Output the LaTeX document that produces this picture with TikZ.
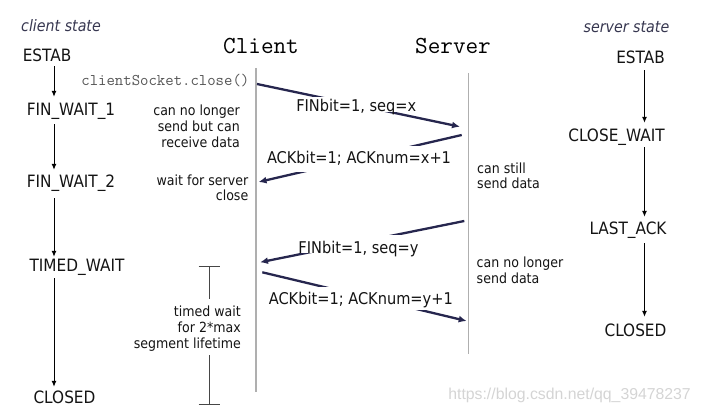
\documentclass[tikz,border=0pt]{standalone}
\usepackage{fontspec}
\setmainfont{DejaVu Sans}[FakeStretch=0.9]
\newfontfamily\wmfont{Liberation Sans}
\usetikzlibrary{arrows.meta,calc}
\definecolor{msgcol}{RGB}{38,38,78}
\definecolor{lifecol}{RGB}{175,175,175}
\definecolor{txtcol}{RGB}{20,20,20}
\definecolor{hintcol}{RGB}{55,55,80}
\definecolor{codecol}{RGB}{85,85,85}
\definecolor{wmcol}{RGB}{212,212,212}
\definecolor{brkcol}{RGB}{70,70,70}
\tikzset{
  statelbl/.style={font=\fontsize{17}{20}\selectfont, text=txtcol, inner sep=0pt,
    text height=12pt, text depth=4pt, anchor=base},
  colhead/.style={font=\fontsize{15.8}{18}\selectfont\itshape, text=hintcol, inner sep=0pt, anchor=base},
  lifehead/.style={font=\fontsize{24.5}{28}\selectfont\ttfamily, text=black, inner sep=0pt, anchor=base},
  lifeline/.style={draw=lifecol, line width=1.5pt},
  stateline/.style={draw=black, line width=1pt, -{Latex[length=6pt,width=5pt]}},
  msgline/.style={draw=msgcol, line width=2.3pt, -{Latex[length=8pt,width=7pt]}},
  msglbl/.style={font=\fontsize{16.2}{19}\selectfont, text=txtcol, fill=white,
    inner xsep=1pt, inner ysep=0pt, anchor=base},
  codelbl/.style={font=\fontsize{16.3}{19}\selectfont\ttfamily, text=codecol, inner sep=0pt},
  note/.style={font=\fontsize{14}{15.6}\selectfont, text=txtcol, inner sep=0pt},
  brk/.style={draw=brkcol, line width=0.8pt},
  wm/.style={font=\wmfont\fontsize{15.8}{18}\selectfont, text=wmcol, inner sep=0pt}
}
\begin{document}
\begin{tikzpicture}[x=1pt,y=-1pt]
\useasboundingbox (0,0) rectangle (701,414);

% column headers
\node[colhead] (cstate) at (61,31.5) {client state};
\node[colhead] (sstate) at (626.5,33) {server state};
\node[lifehead] (client) at (261,53.3) {Client};
\node[lifehead] (server) at (453,53.5) {Server};

% lifelines
\coordinate (cTop) at (256,68);
\coordinate (cBot) at (256,392);
\coordinate (sTop) at (468.5,73);
\coordinate (sBot) at (468.5,353.5);
\draw[lifeline] (cTop) -- (cBot);
\draw[lifeline] (sTop) -- (sBot);

% client states
\coordinate (cx) at (54,0);
\node[statelbl] (cE)  at (47,62)    {ESTAB};
\node[statelbl] (cF1) at (71,116)   {FIN\_WAIT\_1};
\node[statelbl] (cF2) at (71,187.5) {FIN\_WAIT\_2};
\node[statelbl] (cTW) at (77,271)   {TIMED\_WAIT};
\node[statelbl] (cC)  at (64.5,403) {CLOSED};
\draw[stateline, shorten >=7pt] (cE.south -| cx) -- (cF1.north -| cx);
\draw[stateline, shorten <=4pt, shorten >=5.5pt] (cF1.south -| cx) -- (cF2.north -| cx);
\draw[stateline, shorten <=6.5pt, shorten >=2pt] (cF2.south -| cx) -- (cTW.north -| cx);
\draw[stateline, shorten <=3pt, shorten >=4pt] (cTW.south -| cx) -- (cC.north -| cx);

% server states
\coordinate (sx) at (644.5,0);
\node[statelbl] (sE)  at (640.5,64)   {ESTAB};
\node[statelbl] (sCW) at (616.5,141.5){CLOSE\_WAIT};
\node[statelbl] (sLA) at (628,234)    {LAST\_ACK};
\node[statelbl] (sC)  at (635.5,336.5){CLOSED};
\draw[stateline, shorten <=2pt, shorten >=6.5pt] (sE.south -| sx) -- (sCW.north -| sx);
\draw[stateline, shorten <=1.5pt, shorten >=5pt] (sCW.south -| sx) -- (sLA.north -| sx);
\draw[stateline, shorten <=5pt, shorten >=7.5pt] (sLA.south -| sx) -- (sC.north -| sx);

% messages
\coordinate (m1s) at (257,84);    \coordinate (m1e) at (460,126.7);
\coordinate (m2s) at (461.7,135); \coordinate (m2e) at (258.5,182);
\coordinate (m3s) at (464.3,221); \coordinate (m3e) at (260,262.3);
\coordinate (m4s) at (262.3,272.3); \coordinate (m4e) at (466.7,321);
\draw[msgline] (m1s) -- (m1e);
\draw[msgline] (m2s) -- (m2e);
\draw[msgline] (m3s) -- (m3e);
\draw[msgline] (m4s) -- (m4e);
\node[msglbl, text height=14.7pt, text depth=0.6pt] (l1) at (356.3,111.7) {FINbit=1, seq=x};
\node[msglbl, text height=17.3pt, text depth=8.7pt] (l2) at (359,163.3) {ACKbit=1; ACKnum=x+1};
\node[msglbl, text height=18.3pt, text depth=0pt] (l3) at (358.5,253.3) {FINbit=1, seq=y};
\node[msglbl, text height=17.6pt, text depth=5.7pt] (l4) at (360.8,304.3) {ACKbit=1; ACKnum=y+1};

\node[codelbl, anchor=base east] (close) at (249.5,86) {clientSocket.close()};

% notes
\node[note, anchor=north east, align=right] (n1) at (240,105) {can no longer\\send but can\\receive data};
\node[note, anchor=north east, align=right] (n2) at (248.5,174.5) {wait for server\\close};
\node[note, anchor=north west, align=left] (n3) at (477,162.5) {can still\\send data};
\node[note, anchor=north west, align=left] (n4) at (476.5,257) {can no longer\\send data};
\node[note, anchor=north east, align=right] (n5) at (241,306) {timed wait\\for 2*max\\segment lifetime};

% timed-wait bracket
\coordinate (twT) at (209,266);
\coordinate (twB) at (209,404);
\draw[brk] ([xshift=-10.5pt]twT) -- ([xshift=10.5pt]twT);
\draw[brk] ([xshift=-10.5pt]twB) -- ([xshift=10.5pt]twB);
\draw[brk] (twT) -- ($(n5.north -| twT)+(0,-7)$);
\draw[brk] ($(n5.south -| twT)+(0,4)$) -- (twB);

% watermark
\node[wm, anchor=base east] (wm) at (691,399.5) {https://blog.csdn.net/qq\_39478237};
\end{tikzpicture}
\end{document}
